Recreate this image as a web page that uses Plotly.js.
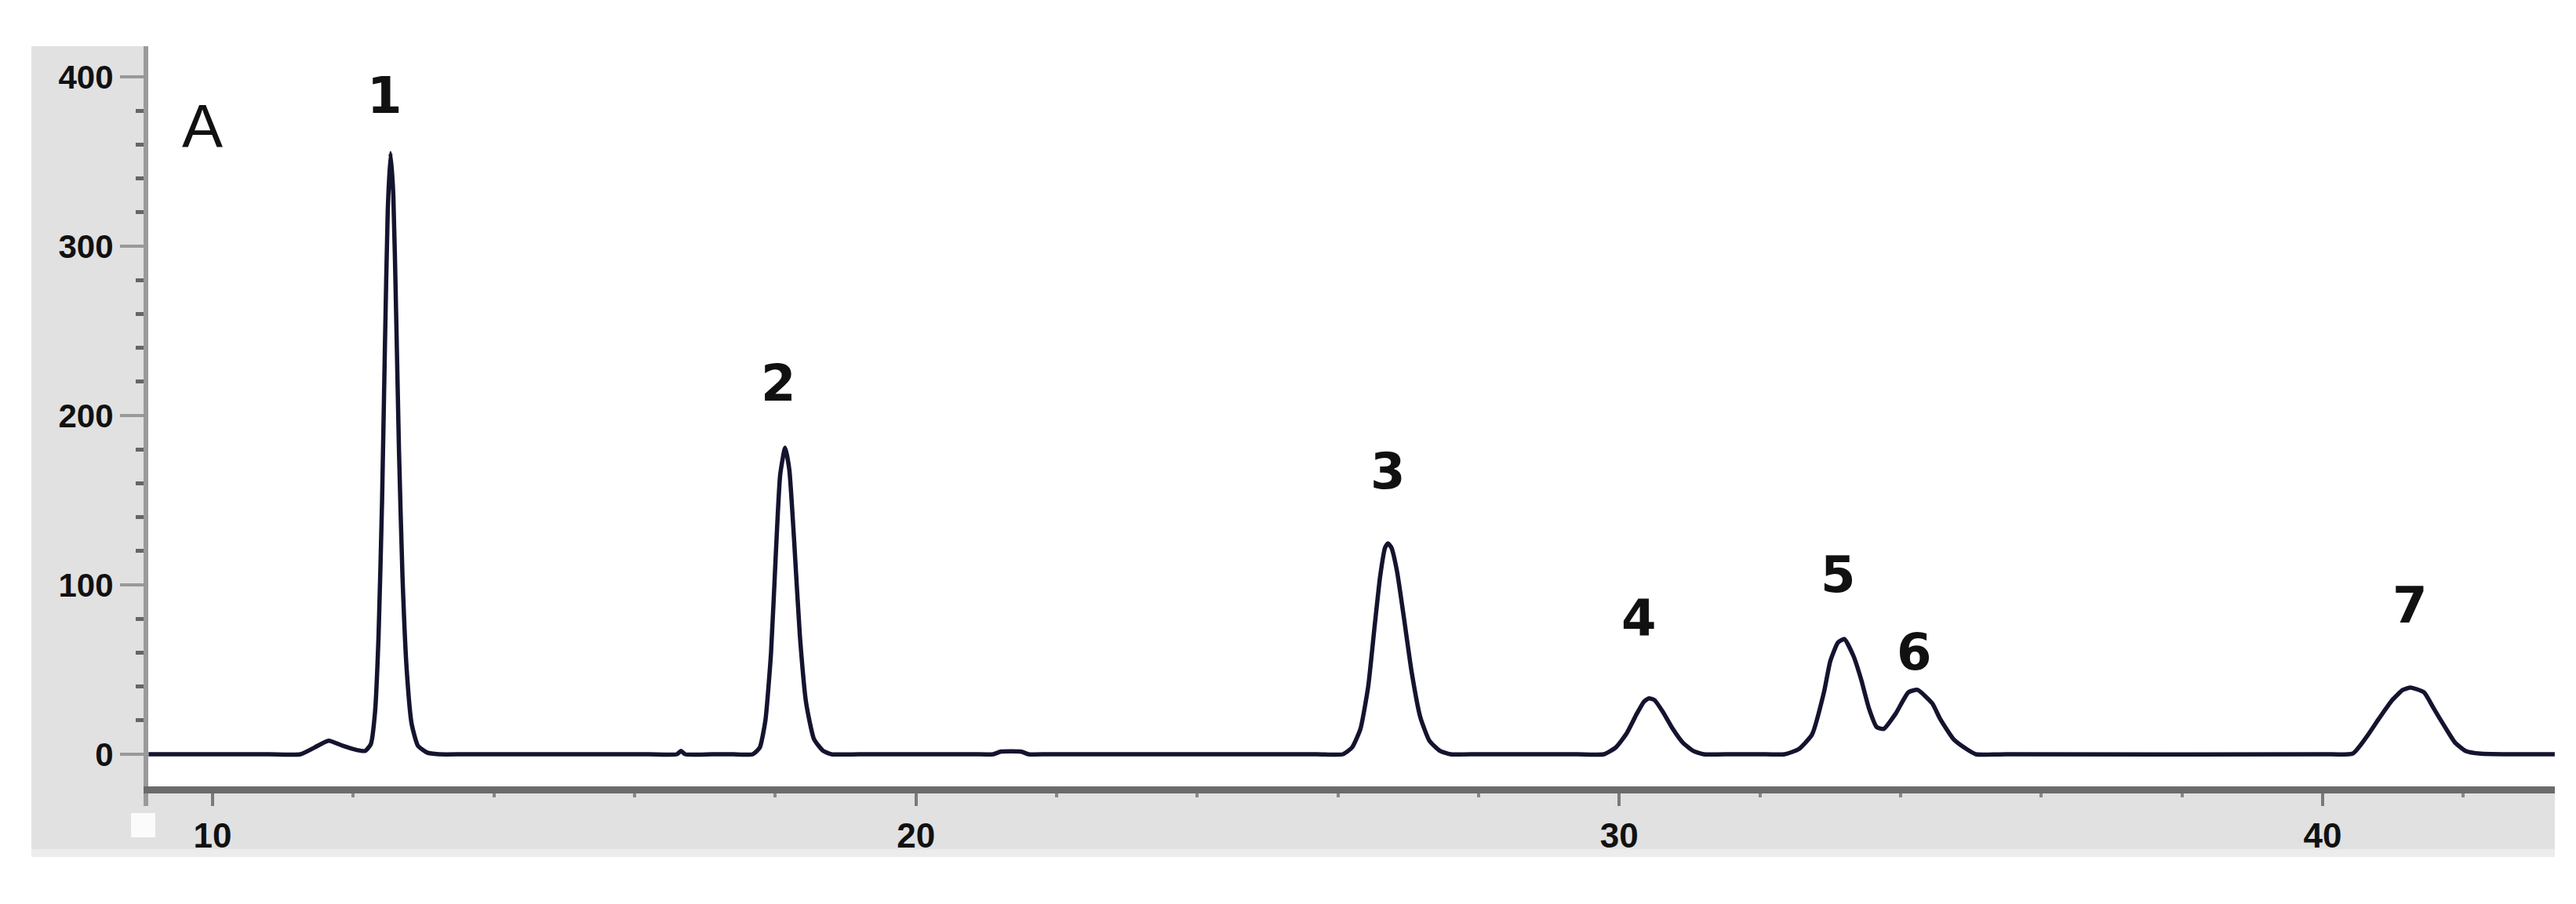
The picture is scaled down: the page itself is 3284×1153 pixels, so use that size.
<!DOCTYPE html>
<html>
<head>
<meta charset="utf-8">
<script src="https://cdn.plot.ly/plotly-3.0.1.min.js"></script>
<style>
  html, body { margin: 0; padding: 0; background: #fff; }
  #plot { width: 3284px; height: 1153px; }
</style>
</head>
<body>
<div id="plot"></div>
<script>
// chromatogram: retention time (min) vs detector signal
// flat baseline stretches are listed with a point near each end
var startTime = [9.09, 10.8, 11.25];
var startSignal = [0, 0, 0];

// small bump + peak 1
var peak1Time = [11.45, 11.65, 11.85, 12.05, 12.17, 12.25, 12.31, 12.36, 12.41, 12.45, 12.49, 12.53, 12.57, 12.61, 12.65, 12.7, 12.76, 12.83, 12.92, 13.05, 13.22, 13.6];
var peak1Signal = [4, 8, 5, 2.5, 2, 6, 25, 70, 150, 240, 320, 355, 330, 260, 180, 105, 50, 18, 5, 1, 0, 0];

var blip1Time = [16.2, 16.6, 16.66, 16.72, 17.1];
var blip1Signal = [0, 0, 2, 0, 0];

var peak2Time = [17.4, 17.68, 17.78, 17.86, 17.94, 18.01, 18.07, 18.14, 18.2, 18.27, 18.35, 18.44, 18.55, 18.68, 18.8, 19.2];
var peak2Signal = [0, 0, 4, 20, 60, 120, 165, 181, 168, 125, 70, 30, 9, 2, 0, 0];

var blip2Time = [20.8, 21.1, 21.2, 21.5, 21.6, 21.9];
var blip2Signal = [0, 0, 1.5, 1.5, 0, 0];

var peak3Time = [25.7, 26.07, 26.2, 26.32, 26.43, 26.52, 26.6, 26.67, 26.71, 26.76, 26.84, 26.94, 27.05, 27.17, 27.3, 27.45, 27.6, 28.0];
var peak3Signal = [0, 0, 4, 15, 40, 75, 105, 122, 124.5, 122, 108, 80, 48, 22, 8, 2, 0, 0];

var peak4Time = [29.4, 29.78, 29.95, 30.1, 30.25, 30.35, 30.42, 30.5, 30.62, 30.76, 30.9, 31.05, 31.2, 31.6];
var peak4Signal = [0, 0, 4, 12, 24, 31, 33, 32, 25, 15, 7, 2, 0, 0];

// peaks 5 and 6 overlap
var peak56Time = [32.0, 32.35, 32.55, 32.74, 32.91, 33.0, 33.11, 33.2, 33.33, 33.44, 33.55, 33.66, 33.76, 33.93, 34.11, 34.24, 34.45, 34.56, 34.75, 34.94, 35.07, 35.5];
var peak56Signal = [0, 0, 3, 11.6, 36.6, 55, 66, 68, 58, 44, 27, 16, 15, 24, 36.6, 38, 30, 21, 9, 3, 0, 0];

var peak7Time = [40.0, 40.43, 40.62, 40.8, 40.99, 41.14, 41.25, 41.44, 41.58, 41.74, 41.88, 42.03, 42.25, 42.6];
var peak7Signal = [0, 0.5, 10, 21, 32, 38, 39.4, 36.6, 27, 16, 7, 2, 0.3, 0];

var endTime = [43.3];
var endSignal = [0];

var peakLabels = ['1', '2', '3', '4', '5', '6', '7'];
var labelTime = [12.45, 18.05, 26.71, 30.28, 33.11, 34.19, 41.24];
var labelSignal = [389, 219, 167, 80, 106, 60, 88];

var time = [].concat(startTime, peak1Time, blip1Time, peak2Time, blip2Time, peak3Time, peak4Time, peak56Time, peak7Time, endTime);
var signal = [].concat(startSignal, peak1Signal, blip1Signal, peak2Signal, blip2Signal, peak3Signal, peak4Signal, peak56Signal, peak7Signal, endSignal);

var trace = {
    x: time,
    y: signal,
    mode: 'lines',
    type: 'scatter',
    line: { color: '#14142f', width: 5.5, shape: 'spline', smoothing: 0.5 },
    hoverinfo: 'skip'
};

var annotations = peakLabels.map(function(lbl, i) {
    return {
        x: labelTime[i], y: labelSignal[i], xref: 'x', yref: 'y',
        text: lbl, showarrow: false,
        font: { family: 'DejaVu Sans', size: 64, weight: 'bold', color: '#111' }
    };
});
annotations.push({
    x: 9.86, y: 371, xref: 'x', yref: 'y', text: 'A', showarrow: false,
    font: { family: 'Liberation Sans', size: 78, color: '#111' }
});

var layout = {
    width: 3284,
    height: 1153,
    margin: { l: 189, r: 27, t: 59, b: 150 },
    paper_bgcolor: '#ffffff',
    plot_bgcolor: '#ffffff',
    showlegend: false,
    xaxis: {
        range: [9.0855, 43.301],
        dtick: 10,
        tick0: 0,
        showgrid: false,
        zeroline: false,
        showline: true,
        linecolor: '#6b6b6b',
        linewidth: 9,
        ticks: 'outside',
        ticklen: 16,
        tickwidth: 4,
        tickcolor: '#7a7a7a',
        minor: { dtick: 2, ticks: 'outside', ticklen: 5, tickwidth: 4, tickcolor: '#888' },
        tickfont: { family: 'Liberation Sans', size: 44, weight: 'bold', color: '#111' }
    },
    yaxis: {
        range: [-18.98, 418.06],
        dtick: 100,
        showgrid: false,
        zeroline: false,
        showline: true,
        linecolor: '#9a9a9a',
        linewidth: 6,
        ticks: 'outside',
        ticklen: 30,
        tickwidth: 4,
        tickcolor: '#999',
        minor: { dtick: 20, ticks: 'outside', ticklen: 10, tickwidth: 5, tickcolor: '#666' },
        tickfont: { family: 'Liberation Sans', size: 42, weight: 'bold', color: '#111' }
    },
    shapes: [
        // grey instrument panel: left strip and bottom strip, outside the plot area
        { type: 'rect', xref: 'paper', yref: 'paper', x0: -0.04857, x1: -0.00196, y0: -0.08475, y1: 1,
          fillcolor: '#e1e1e1', line: { width: 0 }, layer: 'below' },
        { type: 'rect', xref: 'paper', yref: 'paper', x0: -0.04857, x1: 1, y0: -0.08475, y1: 0,
          fillcolor: '#e1e1e1', line: { width: 0 }, layer: 'below' },
        { type: 'rect', xref: 'paper', yref: 'paper', x0: -0.04857, x1: 1, y0: -0.09534, y1: -0.08475,
          fillcolor: '#ececec', line: { width: 0 }, layer: 'below' },
        // little white box bottom left
        { type: 'rect', xref: 'paper', yref: 'paper', x0: -0.00717, x1: 0.00293, y0: -0.06886, y1: -0.03602,
          fillcolor: '#fbfbfb', line: { width: 0 }, layer: 'below' },
        // y axis line runs on past the x axis
        { type: 'line', xref: 'paper', yref: 'paper', x0: -0.00098, x1: -0.00098, y0: 0, y1: -0.02648,
          line: { color: '#9a9a9a', width: 6 }, layer: 'below' }
    ],
    annotations: annotations
};

Plotly.newPlot('plot', [trace], layout, { displayModeBar: false, staticPlot: true });
</script>
</body>
</html>
